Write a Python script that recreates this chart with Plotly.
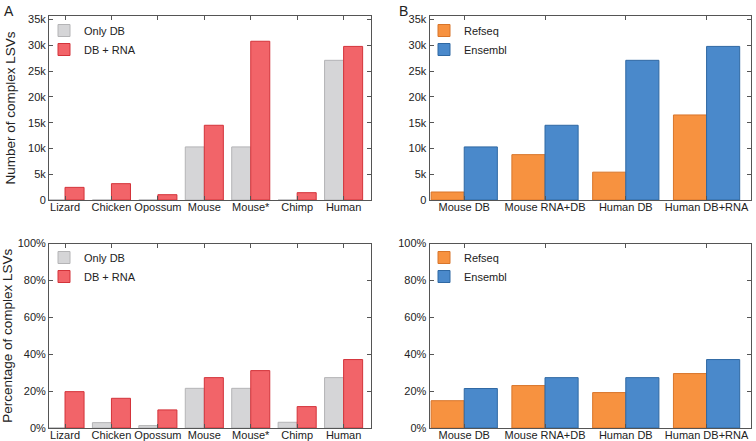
import plotly.graph_objects as go

# ---- data ----
species = ["Lizard", "Chicken", "Opossum", "Mouse", "Mouse*", "Chimp", "Human"]
count_only_db = [0, 0, 0, 10300, 10300, 0, 27100]
count_db_rna = [2450, 3170, 1030, 14500, 30800, 1420, 29800]
pct_only_db = [0, 2.9, 1.3, 21.5, 21.5, 3.1, 27.3]
pct_db_rna = [19.7, 16.1, 9.8, 27.3, 31.1, 11.6, 37.1]

annot_groups = ["Mouse DB", "Mouse RNA+DB", "Human DB", "Human DB+RNA"]
count_refseq = [1550, 8800, 5400, 16500]
count_ensembl = [10300, 14500, 27100, 29800]
pct_refseq = [14.8, 23.0, 19.2, 29.5]
pct_ensembl = [21.4, 27.3, 27.3, 37.1]

count_tickvals = [0, 5000, 10000, 15000, 20000, 25000, 30000, 35000]
count_ticktext = ["0", "5k", "10k", "15k", "20k", "25k", "30k", "35k"]
pct_tickvals = [0, 20, 40, 60, 80, 100]
pct_ticktext = ["0%", "20%", "40%", "60%", "80%", "100%"]

# ---- style ----
GRAY, GRAY_E = "#d5d5d7", "#b4b4b6"
RED, RED_E = "#f26469", "#d3333a"
ORANGE, ORANGE_E = "#f79240", "#d8752a"
BLUE, BLUE_E = "#4a89cb", "#2f68a3"
AX = "#555555"
FONT = "Liberation Sans, Arial, sans-serif"

W, H = 756, 441
def xd(a, b):
    return [a / W, b / W]
def yd(top, bottom):
    return [1 - bottom / H, 1 - top / H]

fig = go.Figure()

def add_bar(x, y, name, color, edge, xa, ya, leg):
    fig.add_trace(go.Bar(
        x=x, y=y, name=name, marker=dict(color=color, line=dict(color=edge, width=1)),
        xaxis=xa, yaxis=ya, legend=leg,
    ))

# panel A top
add_bar(species, count_only_db, "Only DB", GRAY, GRAY_E, "x", "y", "legend")
add_bar(species, count_db_rna, "DB + RNA", RED, RED_E, "x", "y", "legend")
# panel B top
add_bar(annot_groups, count_refseq, "Refseq", ORANGE, ORANGE_E, "x2", "y2", "legend2")
add_bar(annot_groups, count_ensembl, "Ensembl", BLUE, BLUE_E, "x2", "y2", "legend2")
# panel A bottom
add_bar(species, pct_only_db, "Only DB", GRAY, GRAY_E, "x3", "y3", "legend3")
add_bar(species, pct_db_rna, "DB + RNA", RED, RED_E, "x3", "y3", "legend3")
# panel B bottom
add_bar(annot_groups, pct_refseq, "Refseq", ORANGE, ORANGE_E, "x4", "y4", "legend4")
add_bar(annot_groups, pct_ensembl, "Ensembl", BLUE, BLUE_E, "x4", "y4", "legend4")

common_ax = dict(
    showline=True, linecolor=AX, linewidth=1, mirror="allticks",
    ticks="inside", ticklen=4, tickcolor=AX, showgrid=False, zeroline=False,
    tickfont=dict(size=11, color="#222222", family=FONT), automargin=False,
)
x_ax = dict(common_ax, ticklabelstandoff=-3)

left_x = xd(49, 371)
right_x = xd(429.5, 751)
top_y = yd(16, 200)
bot_y = yd(243.5, 428)

fig.update_layout(
    width=W, height=H, margin=dict(l=0, r=0, t=0, b=0),
    paper_bgcolor="white", plot_bgcolor="white",
    barmode="group", bargap=0.18, bargroupgap=0,
    font=dict(family=FONT, color="#222222"),
    xaxis=dict(domain=left_x, anchor="y", range=[-0.345, 6.59], **x_ax),
    yaxis=dict(domain=top_y, anchor="x", range=[0, 35700], tickvals=count_tickvals,
               ticktext=count_ticktext,
               title=dict(text="Number of complex LSVs", font=dict(size=13.5, family=FONT), standoff=9),
               **common_ax),
    xaxis2=dict(domain=right_x, anchor="y2", range=[-0.43, 3.55], **x_ax),
    yaxis2=dict(domain=top_y, anchor="x2", range=[0, 35700], tickvals=count_tickvals,
                ticktext=count_ticktext, **common_ax),
    xaxis3=dict(domain=left_x, anchor="y3", range=[-0.345, 6.59], **x_ax),
    yaxis3=dict(domain=bot_y, anchor="x3", range=[0, 100], tickvals=pct_tickvals,
                ticktext=pct_ticktext,
                title=dict(text="Percentage of complex LSVs", font=dict(size=13.5, family=FONT), standoff=1),
                **common_ax),
    xaxis4=dict(domain=right_x, anchor="y4", range=[-0.43, 3.55], **x_ax),
    yaxis4=dict(domain=bot_y, anchor="x4", range=[0, 100], tickvals=pct_tickvals,
                ticktext=pct_ticktext, **common_ax),
)

def legend_at(xpx, ypx):
    return dict(x=xpx / W, y=1 - ypx / H, xanchor="left", yanchor="top",
                bgcolor="rgba(0,0,0,0)", font=dict(size=11, family=FONT, color="#222222"),
                tracegroupgap=0, itemwidth=30)

fig.update_layout(
    legend=legend_at(44, 16),
    legend2=legend_at(424, 16),
    legend3=legend_at(44, 243),
    legend4=legend_at(424, 243),
)

# panel letters
fig.add_annotation(text="A", x=2 / W, y=1 - 1 / H, xref="paper", yref="paper",
                   xanchor="left", yanchor="top", showarrow=False, font=dict(size=14, family=FONT))
fig.add_annotation(text="B", x=397 / W, y=1 - 1 / H, xref="paper", yref="paper",
                   xanchor="left", yanchor="top", showarrow=False, font=dict(size=14, family=FONT))

fig.write_html("out.html", config={"displayModeBar": False},
               post_script="document.body.style.margin='0';document.body.style.overflow='hidden';")
